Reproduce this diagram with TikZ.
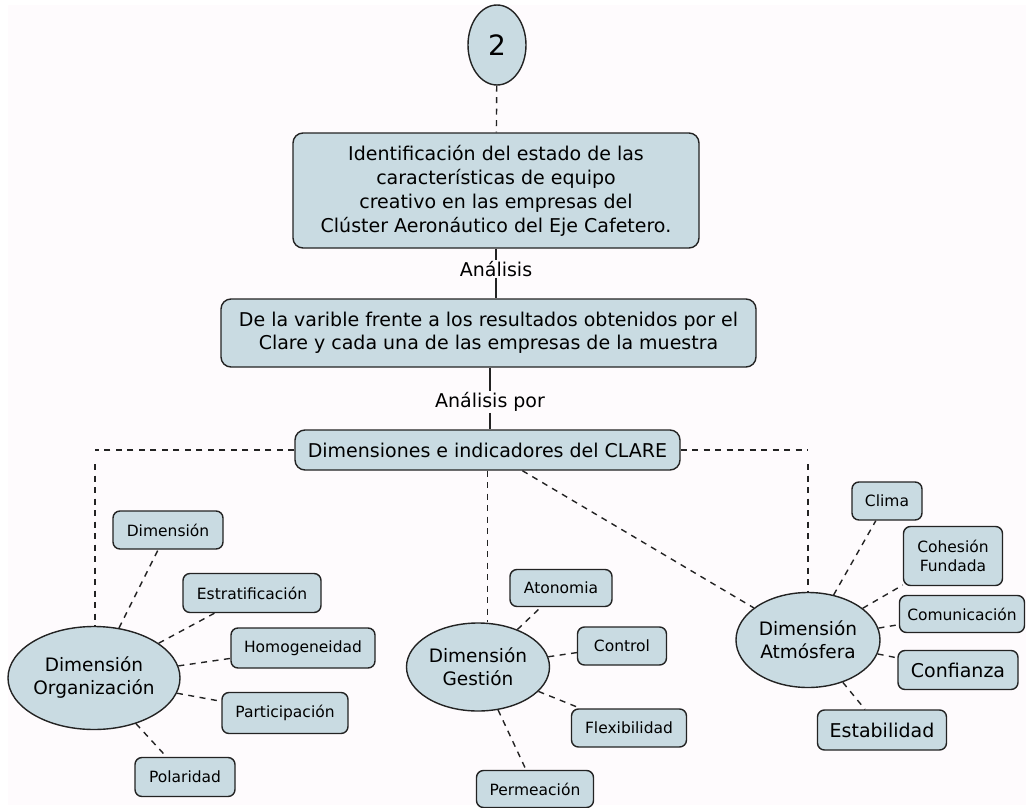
\documentclass[tikz,border=0pt]{standalone}
\usepackage{fontspec}
\setmainfont{DejaVu Sans}
\usetikzlibrary{shapes.geometric}
\definecolor{boxfill}{RGB}{201,219,226}
\definecolor{edge}{RGB}{35,35,35}
\definecolor{paper}{RGB}{254,251,253}
\begin{document}
\begin{tikzpicture}[x=1pt,y=-1pt,
  box/.style={draw=edge, fill=boxfill, rounded corners=8pt, line width=1.4pt,
              inner sep=0pt, align=center},
  oval/.style={ellipse, draw=edge, fill=boxfill, line width=1.4pt,
               inner sep=0pt, align=center},
  small/.style={box, rounded corners=7pt, font=\fontsize{15.5}{18.5}\selectfont},
  big/.style={box, rounded corners=7pt, font=\fontsize{19}{22}\selectfont},
  dimoval/.style={oval, font=\fontsize{18.5}{23}\selectfont},
  link/.style={draw=edge, dash pattern=on 6pt off 5.5pt, line width=1.4pt},
  solidlink/.style={draw=edge, line width=1.4pt},
  lbl/.style={fill=paper, inner sep=1pt, font=\fontsize{19}{22}\selectfont}
]
\fill[white] (0,0) rectangle (1026,808);
\fill[paper] (8,5) rectangle (1026,805);
\useasboundingbox (0,0) rectangle (1026,808);

% top of the map
\node[oval, minimum width=58pt, minimum height=80pt,
      font=\fontsize{28}{30}\selectfont] (two) at (497,45) {2};
\node[box, rounded corners=10pt, minimum width=406pt, minimum height=115pt,
      font=\fontsize{19}{24}\selectfont] (ident) at (496,190.5)
  {Identificación del estado de las\\características de equipo\\creativo en las empresas del\\Clúster Aeronáutico del Eje Cafetero.};
\node[lbl] (an1) at (496,269) {Análisis};
\node[box, rounded corners=10pt, minimum width=535pt, minimum height=68pt,
      font=\fontsize{19}{23}\selectfont] (vari) at (488.5,333)
  {De la varible frente a los resultados obtenidos por el\\Clare y cada una de las empresas de la muestra};
\node[lbl] (an2) at (490,402) {Análisis por};
\node[box, rounded corners=10pt, minimum width=385pt, minimum height=40pt,
      font=\fontsize{19}{22}\selectfont] (dims) at (487.5,450)
  {Dimensiones e indicadores del CLARE};

\draw[link] (two) -- (ident);
\draw[solidlink] (ident.south) -- (an1.north);
\draw[solidlink] (an1.south) -- (an1.south |- vari.north);
\draw[solidlink] (vari.south -| an2) -- (an2.north);
\draw[solidlink] (an2.south) -- (an2.south |- dims.north);

% the three dimensions
\node[dimoval, minimum width=172pt, minimum height=103pt] (org) at (94,678)
  {Dimensión\\Organización};
\node[dimoval, minimum width=143pt, minimum height=88pt] (ges) at (478,667)
  {Dimensión\\Gestión};
\node[dimoval, minimum width=144pt, minimum height=95pt] (atm) at (808,640)
  {Dimensión\\Atmósfera};

\coordinate (lc) at (95,450);
\coordinate (lt) at (95,464);
\coordinate (rc) at (808,450);
\coordinate (rt) at (808,464);
\draw[link] (dims.west) -- (lc);
\draw[link] (lt) -- (org.north -| lt);
\draw[link] (dims.east) -- (rc);
\draw[link] (rt) -- (atm.north -| rt);
\draw[link] (dims.south) -- (ges.north -| dims.south);
\draw[link] (dims) -- (atm);

% indicators of Organización
\node[small, minimum width=110pt, minimum height=38pt] (dimen) at (168,530) {Dimensión};
\node[small, minimum width=138pt, minimum height=39pt] (estr) at (252,593) {Estratificación};
\node[small, minimum width=144pt, minimum height=40pt] (homo) at (303,648) {Homogeneidad};
\node[small, minimum width=126pt, minimum height=41pt] (part) at (285,713) {Participación};
\node[small, minimum width=100pt, minimum height=39pt] (pola) at (185,777) {Polaridad};
\foreach \n in {dimen,estr,homo,part,pola} \draw[link] (org) -- (\n);

% indicators of Gestión
\node[small, minimum width=102pt, minimum height=37pt] (aton) at (561,588) {Atonomia};
\node[small, minimum width=89pt, minimum height=38pt] (cont) at (622,646) {Control};
\node[small, minimum width=115pt, minimum height=38pt] (flex) at (629,728) {Flexibilidad};
\node[small, minimum width=117pt, minimum height=37pt] (perm) at (535,789) {Permeación};
\foreach \n in {aton,cont,flex,perm} \draw[link] (ges) -- (\n);

% indicators of Atmósfera
\node[small, minimum width=70pt, minimum height=38pt] (clim) at (887,501) {Clima};
\node[small, minimum width=99pt, minimum height=59pt] (cohe) at (953,556) {Cohesión\\Fundada};
\node[small, minimum width=125pt, minimum height=37pt] (comu) at (962,614) {Comunicación};
\node[big, minimum width=120pt, minimum height=39pt] (conf) at (958,670) {Confianza};
\node[big, minimum width=129pt, minimum height=40pt] (esta) at (882,730) {Estabilidad};
\foreach \n in {clim,cohe,comu,conf,esta} \draw[link] (atm) -- (\n);
\end{tikzpicture}
\end{document}
